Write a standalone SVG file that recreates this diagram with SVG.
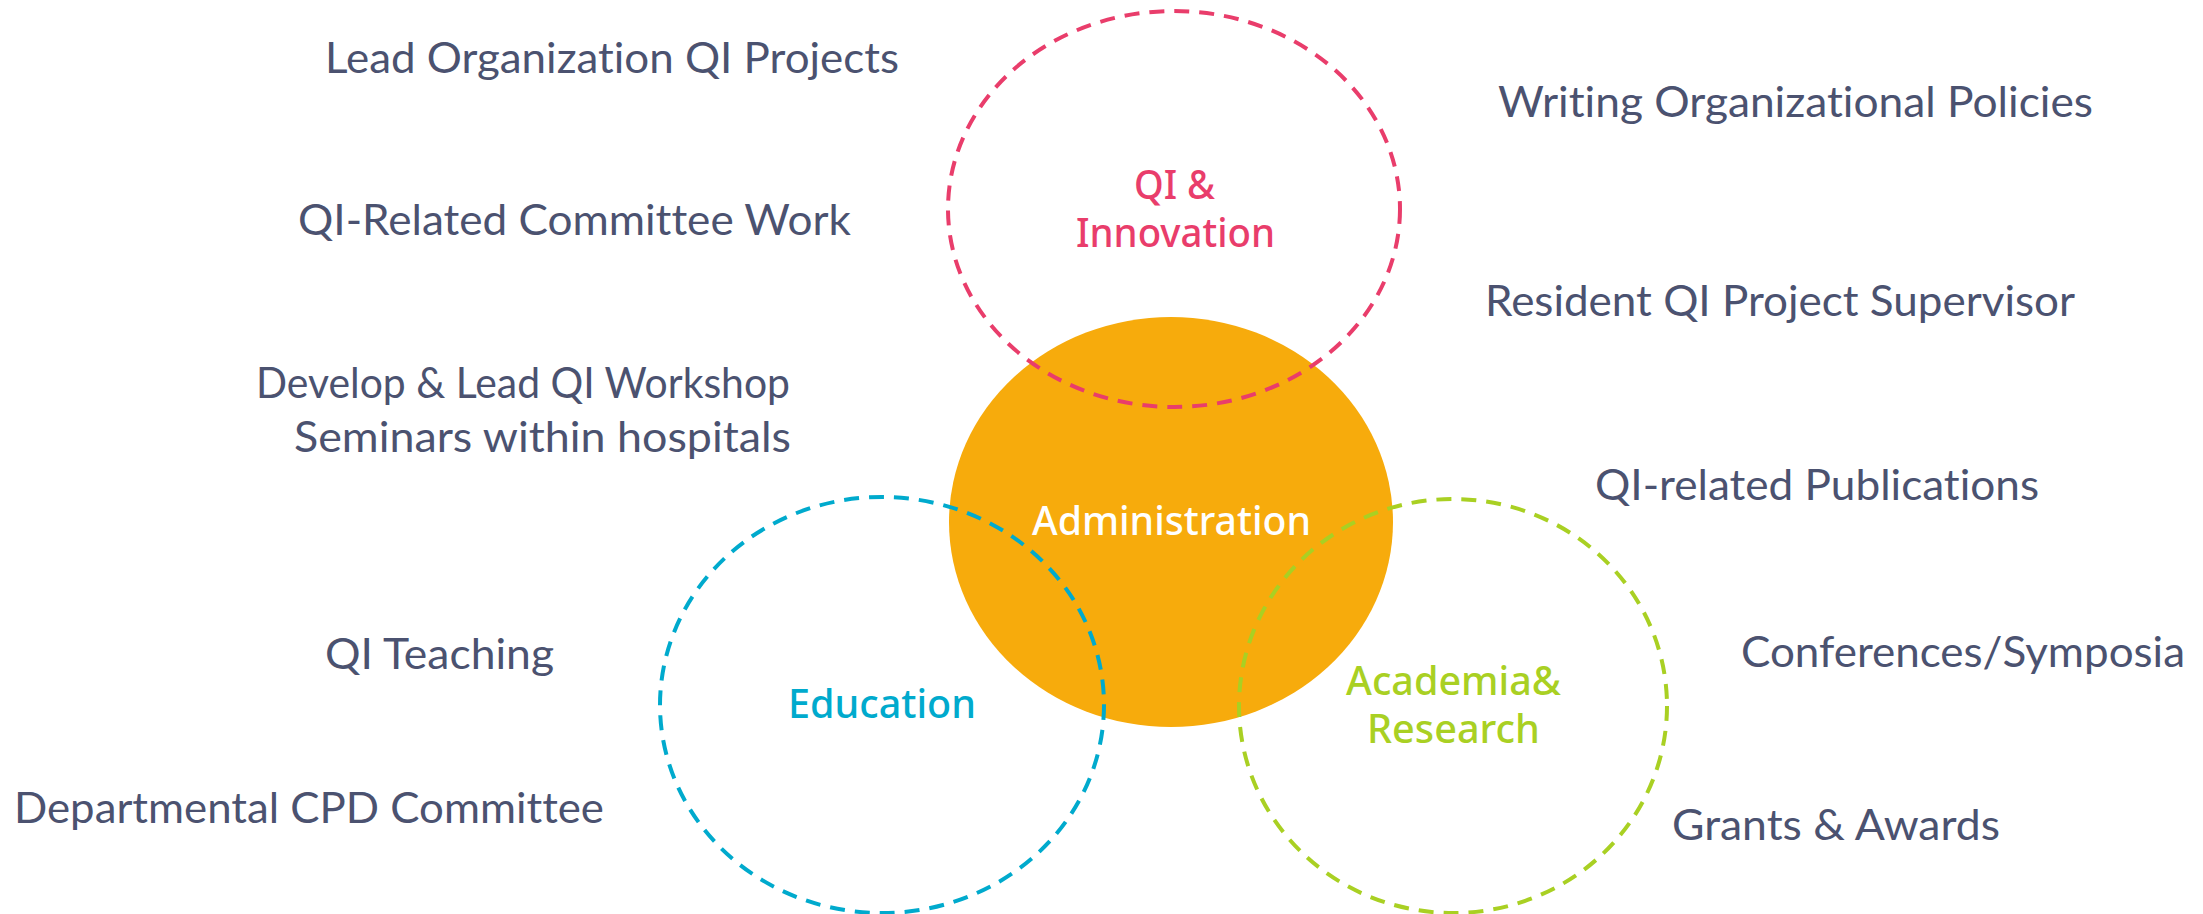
<svg xmlns="http://www.w3.org/2000/svg" width="2203" height="914" viewBox="0 0 2203 914">
<style>
.item{font-family:Lato,"Liberation Sans",sans-serif;font-size:42px;fill:#4B5270;font-variant-ligatures:none}
.lbl{font-family:"Noto Sans","Open Sans",sans-serif;font-size:39px;font-weight:500}
.ring{fill:none;stroke-width:4;stroke-dasharray:15 10}
</style>
<rect width="2203" height="914" fill="#ffffff"/>
<g id="administration">
<ellipse cx="1171" cy="522" rx="222" ry="205" fill="#F7AB0C"/>
</g>
<g id="qi-innovation">
<ellipse class="ring" cx="1174" cy="209" rx="226" ry="198" stroke="#E93D6B"/>
<text class="lbl" fill="#E93D6B" x="1134" y="199" textLength="81" lengthAdjust="spacingAndGlyphs">QI &amp;</text>
<text class="lbl" fill="#E93D6B" x="1076" y="247" textLength="199" lengthAdjust="spacingAndGlyphs">Innovation</text>
</g>
<g id="education">
<ellipse class="ring" cx="882" cy="705" rx="222" ry="208" stroke="#00AACD"/>
<text class="lbl" fill="#00AACD" x="788" y="718" textLength="188" lengthAdjust="spacingAndGlyphs">Education</text>
</g>
<g id="academia-research">
<ellipse class="ring" cx="1453" cy="706" rx="214" ry="207" stroke="#A9D023"/>
<text class="lbl" fill="#A9D023" x="1346" y="695" textLength="215" lengthAdjust="spacingAndGlyphs">Academia&amp;</text>
<text class="lbl" fill="#A9D023" x="1367" y="743" textLength="173" lengthAdjust="spacingAndGlyphs">Research</text>
</g>
<g id="administration-label">
<text class="lbl" fill="#ffffff" x="1032" y="535" textLength="279" lengthAdjust="spacingAndGlyphs">Administration</text>
</g>
<g id="items">
<text class="item" x="325" y="73" textLength="574" lengthAdjust="spacingAndGlyphs">Lead Organization QI Projects</text>
<text class="item" x="298" y="235" textLength="553" lengthAdjust="spacingAndGlyphs">QI-Related Committee Work</text>
<text class="item" x="256" y="398" textLength="534" lengthAdjust="spacingAndGlyphs">Develop &amp; Lead QI Workshop</text>
<text class="item" x="294" y="452" textLength="497" lengthAdjust="spacingAndGlyphs">Seminars within hospitals</text>
<text class="item" x="325" y="669" textLength="229" lengthAdjust="spacingAndGlyphs">QI Teaching</text>
<text class="item" x="14" y="823" textLength="590" lengthAdjust="spacingAndGlyphs">Departmental CPD Committee</text>
<text class="item" x="1498" y="117" textLength="595" lengthAdjust="spacingAndGlyphs">Writing Organizational Policies</text>
<text class="item" x="1485" y="316" textLength="590" lengthAdjust="spacingAndGlyphs">Resident QI Project Supervisor</text>
<text class="item" x="1595" y="500" textLength="444" lengthAdjust="spacingAndGlyphs">QI-related Publications</text>
<text class="item" x="1741" y="667" textLength="444" lengthAdjust="spacingAndGlyphs">Conferences/Symposia</text>
<text class="item" x="1672" y="840" textLength="328" lengthAdjust="spacingAndGlyphs">Grants &amp; Awards</text>
</g>
<g id="connectors"></g>
</svg>
